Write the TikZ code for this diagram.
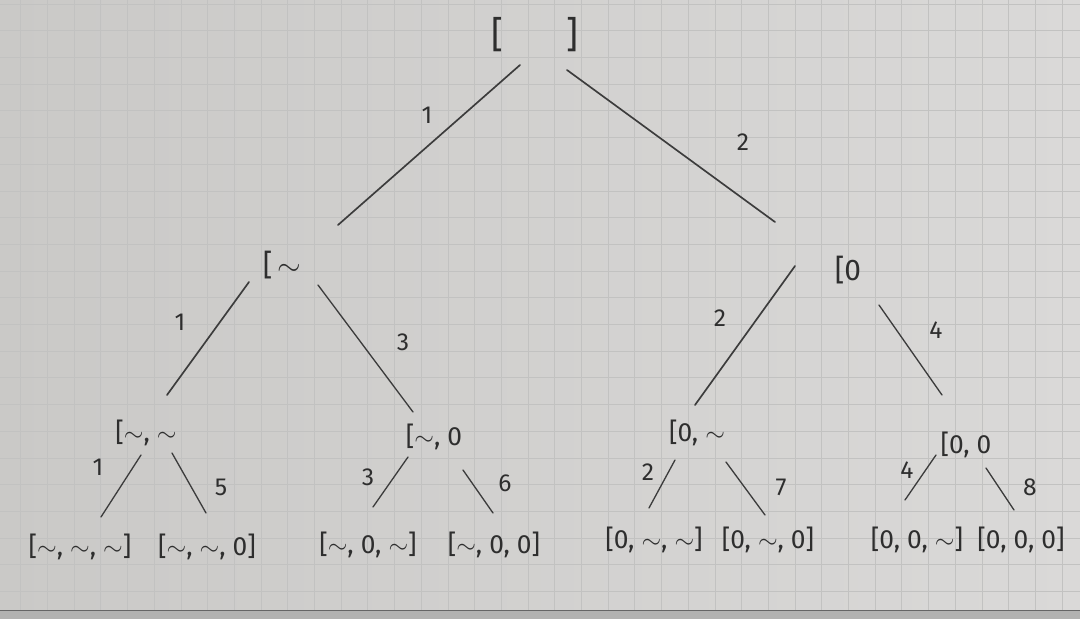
\documentclass[tikz,border=0pt]{standalone}
\usepackage{fontspec}
\setmainfont{Fira Sans}
\usetikzlibrary{calc}
\newcommand\mytil{\ensuremath{\sim}}
\definecolor{paperL}{HTML}{CAC9C7}
\definecolor{paperR}{HTML}{DAD9D8}
\definecolor{gridc}{HTML}{C2C2C1}
\definecolor{ink}{HTML}{2E2E2E}
\definecolor{pencil}{HTML}{3C3C3C}
\tikzset{
  state/.style={text=ink, inner sep=1pt, font=\fontsize{15}{17}\selectfont},
  midstate/.style={state, font=\fontsize{17}{19}\selectfont},
  topstate/.style={state, font=\fontsize{21}{24}\selectfont},
  weight/.style={text=ink, inner sep=1pt, font=\fontsize{14}{16}\selectfont},
  branch/.style={draw=pencil, line width=0.75pt, line cap=round},
}
\begin{document}
\begin{tikzpicture}[x=0.02cm,y=-0.02cm]
\useasboundingbox (0,0) rectangle (1080,619);
% paper
\shade[left color=paperL, right color=paperR] (0,0) rectangle (1080,619);
\foreach \i in {0,...,41} {
  \draw[gridc, line width=0.35pt] ({-6+\i*26.7},0) -- ({-6+\i*26.7},610);
}
\foreach \j in {0,...,23} {
  \draw[gridc, line width=0.35pt] (0,{4+\j*26.7}) -- (1080,{4+\j*26.7});
}
\fill[gridc!92!black] (0,610) rectangle (1080,619);
\draw[black!60, line width=0.7pt] (0,610.5) -- (1080,610.5);

% nodes
\node[topstate] (root) at (535,35) {[\hspace{1.25cm}]};
\node[midstate] (L) at (282,265) {[\,\mytil};
\node[midstate] (R) at (848,270) {[0};
\node[state] (LL) at (146,433) {[\mytil, \mytil};
\node[state] (LR) at (434,437) {[\mytil, 0};
\node[state] (RL) at (697,433) {[0, \mytil};
\node[state] (RR) at (966,445) {[0, 0};
\node[state] (l1) at (80,547) {[\mytil, \mytil, \mytil]};
\node[state] (l2) at (207,547) {[\mytil, \mytil, 0]};
\node[state] (l3) at (368,545) {[\mytil, 0, \mytil]};
\node[state] (l4) at (494,545) {[\mytil, 0, 0]};
\node[state] (l5) at (654,540) {[0, \mytil, \mytil]};
\node[state] (l6) at (768,540) {[0, \mytil, 0]};
\node[state] (l7) at (917,540) {[0, 0, \mytil]};
\node[state] (l8) at (1021,540) {[0, 0, 0]};

% connectors
\draw[branch, line width=0.95pt] ($(root)+(-15,30)$) -- ($(L)+(56,-40)$);
\draw[branch, line width=0.95pt] ($(root)+(32,35)$) -- ($(R)+(-73,-48)$);
\draw[branch, line width=0.95pt] ($(L)+(-33,17)$) -- ($(LL)+(21,-38)$);
\draw[branch] ($(L)+(36,20)$) -- ($(LR)+(-21,-25)$);
\draw[branch, line width=0.95pt] ($(R)+(-53,-4)$) -- ($(RL)+(-2,-28)$);
\draw[branch] ($(R)+(31,35)$) -- ($(RR)+(-24,-50)$);
\draw[branch] ($(LL)+(-5,22)$) -- ($(l1)+(21,-30)$);
\draw[branch] ($(LL)+(26,20)$) -- ($(l2)+(-1,-34)$);
\draw[branch] ($(LR)+(-26,20)$) -- ($(l3)+(5,-38)$);
\draw[branch] ($(LR)+(29,33)$) -- ($(l4)+(-1,-32)$);
\draw[branch] ($(RL)+(-22,27)$) -- ($(l5)+(-5,-32)$);
\draw[branch] ($(RL)+(29,29)$) -- ($(l6)+(-3,-25)$);
\draw[branch] ($(RR)+(-30,10)$) -- ($(l7)+(-12,-40)$);
\draw[branch] ($(RR)+(20,23)$) -- ($(l8)+(-7,-30)$);

% weights
\node[weight] (w1) at (427,115) {1};
\node[weight] (w2) at (743,142) {2};
\node[weight] (w3) at (180,322) {1};
\node[weight] (w4) at (403,342) {3};
\node[weight] (w5) at (720,318) {2};
\node[weight] (w6) at (936,330) {4};
\node[weight] (w7) at (98,467) {1};
\node[weight] (w8) at (221,487) {5};
\node[weight] (w9) at (368,477) {3};
\node[weight] (w10) at (505,483) {6};
\node[weight] (w11) at (648,472) {2};
\node[weight] (w12) at (781,487) {7};
\node[weight] (w13) at (907,470) {4};
\node[weight] (w14) at (1030,487) {8};
\end{tikzpicture}
\end{document}
